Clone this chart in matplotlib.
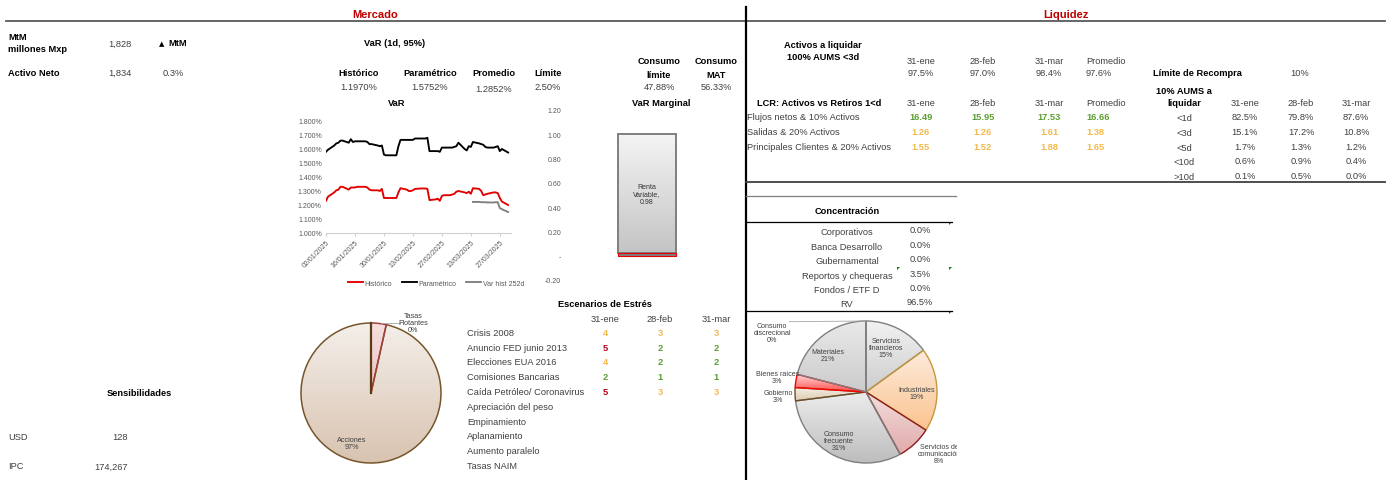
import numpy as np
import pandas as pd
import matplotlib
matplotlib.use('Agg')
import matplotlib.pyplot as plt
import matplotlib.dates as mdates
from matplotlib.colors import LinearSegmentedColormap
from matplotlib.patches import Polygon
from matplotlib.ticker import FuncFormatter

plt.rcParams['font.family'] = ['Liberation Sans', 'DejaVu Sans']

W, H = 1389, 481

# ---------------- Mercado ----------------
mtm = '1,828'
activo_neto = '1,834'
delta_mtm = '0.3%'

var_headers = ['Histórico', 'Paramétrico', 'Promedio', 'Límite']
var_values = ['1.1970%', '1.5752%', '1.2852%', '2.50%']
consumo_headers = [('Consumo', 'límite'), ('Consumo', 'MAT')]
consumo_values = ['47.88%', '56.33%']

# VaR diario en %, dias habiles del 02/01/2025 al 31/03/2025
var_dates = pd.bdate_range('2025-01-02', '2025-03-31')
var_historico = [1.23, 1.26, 1.29, 1.305, 1.31, 1.33, 1.33, 1.31, 1.325, 1.325, 1.325,
                 1.33, 1.33, 1.33, 1.325, 1.31, 1.305, 1.305, 1.30, 1.315, 1.25, 1.25,
                 1.25, 1.25, 1.25, 1.29, 1.32, 1.31, 1.30, 1.30, 1.305, 1.315,
                 1.318, 1.318, 1.318, 1.315, 1.235, 1.24, 1.245, 1.23, 1.265, 1.27,
                 1.27, 1.275, 1.28, 1.295, 1.30, 1.29, 1.285, 1.295, 1.28, 1.32, 1.315,
                 1.30, 1.27, 1.275, 1.28, 1.29, 1.29, 1.285, 1.25, 1.225, 1.20]
var_parametrico = [1.58, 1.595, 1.625, 1.64, 1.645, 1.66, 1.66, 1.645, 1.67, 1.65, 1.655,
                   1.655, 1.655, 1.655, 1.65, 1.635, 1.635, 1.625, 1.62, 1.625, 1.56, 1.555,
                   1.555, 1.555, 1.555, 1.62, 1.665, 1.665, 1.665, 1.665, 1.665, 1.675,
                   1.675, 1.675, 1.675, 1.68, 1.585, 1.585, 1.585, 1.58, 1.61, 1.61,
                   1.61, 1.61, 1.615, 1.62, 1.645, 1.60, 1.59, 1.62, 1.615, 1.65, 1.64,
                   1.635, 1.63, 1.615, 1.61, 1.61, 1.615, 1.62, 1.585, 1.60, 1.575]
var_hist_252d = [1.222, 1.222, 1.22, 1.22, 1.22, 1.218, 1.218, 1.22, 1.22, 1.178, 1.17, 1.15]

var_marginal_cat = ['Renta Variable']
var_marginal_base = [0.02]
var_marginal = [0.98]

tipo_labels = ['Tasas\nFlotantes\n0%', 'Acciones\n97%']
tipo_values = [3.5, 96.5]

escenarios = ['Crisis 2008', 'Anuncio FED junio 2013', 'Elecciones EUA 2016',
              'Comisiones Bancarias', 'Caída Petróleo/ Coronavirus', 'Apreciación del peso',
              'Empinamiento', 'Aplanamiento', 'Aumento paralelo', 'Tasas NAIM']
fechas = ['31-ene', '28-feb', '31-mar']
escenarios_valores = [[4, 3, 3], [5, 2, 2], [4, 2, 2], [2, 1, 1], [5, 3, 3]]

sens_labels = ['USD', 'IPC']
sens_values = ['128', '174,267']

# ---------------- Liquidez ----------------
activos_liquidar = ['97.5%', '97.0%', '98.4%']
activos_promedio = '97.6%'
lcr_rows = ['Flujos netos & 10% Activos', 'Salidas & 20% Activos',
            'Principales Clientes & 20% Activos']
lcr_values = [[16.49, 15.95, 17.53, 16.66],
              [1.26, 1.26, 1.61, 1.38],
              [1.55, 1.52, 1.88, 1.65]]
limite_recompra = '10%'
aums_rows = ['<1d', '<3d', '<5d', '<10d', '>10d']
aums_values = [['82.5%', '79.8%', '87.6%'],
               ['15.1%', '17.2%', '10.8%'],
               ['1.7%', '1.3%', '1.2%'],
               ['0.6%', '0.9%', '0.4%'],
               ['0.1%', '0.5%', '0.0%']]
conc_rows = ['Corporativos', 'Banca Desarrollo', 'Gubernamental',
             'Reportos y chequeras', 'Fondos / ETF D', 'RV']
conc_values = ['0.0%', '0.0%', '0.0%', '3.5%', '0.0%', '96.5%']

sector_labels = ['Servicios\nfinancieros\n15%', 'Industriales\n19%',
                 'Servicios de\ncomunicación\n8%', 'Consumo\nfrecuente\n31%',
                 'Gobierno\n3%', 'Bienes raíces\n3%', 'Materiales\n21%',
                 'Consumo\ndiscrecional\n0%']
sector_values = [15, 19, 8, 31, 3, 3, 21, 0]

GREEN = '#5a9e32'
ORANGE = '#f4b94a'
RED = '#b3001b'
TXT = '#404040'


def px_rect(x0, y0, x1, y1):
    return [x0 / W, 1 - y1 / H, (x1 - x0) / W, (y1 - y0) / H]


def grad_fill(ax, patch, c_top, c_bot, z=1):
    ext = patch.get_path().transformed(patch.get_patch_transform()).get_extents()
    cmap = LinearSegmentedColormap.from_list('g', [c_bot, c_top])
    grad = np.linspace(0, 1, 128).reshape(-1, 1)
    im = ax.imshow(grad, extent=[ext.x0, ext.x1, ext.y0, ext.y1], origin='lower',
                   cmap=cmap, aspect='auto', zorder=z, interpolation='bilinear')
    im.set_clip_path(patch)
    patch.set_facecolor('none')
    patch.set_zorder(z + 1)


fig = plt.figure(figsize=(W / 100, H / 100), dpi=100)

# overlay en pixeles para textos y lineas
ax0 = fig.add_axes([0, 0, 1, 1])
ax0.set_xlim(0, W)
ax0.set_ylim(H, 0)
ax0.axis('off')


def T(x, y, s, size=6.7, bold=False, color=TXT, ha='left'):
    ax0.text(x, y, s, fontsize=size, fontweight='bold' if bold else 'normal',
             color=color, ha=ha, va='center')


# titulos y lineas
T(375, 15, 'Mercado', 8, True, '#c00000', 'center')
T(1066, 15, 'Liquidez', 8, True, '#c00000', 'center')
ax0.plot([6, 1385], [22, 22], color='#595959', lw=1.3)
ax0.plot([746, 746], [8, 481], color='black', lw=1.6)
ax0.plot([746, 1385], [183, 183], color='#404040', lw=1.3)

# bloque MtM
T(8, 37, 'MtM', bold=True, color='black')
T(8, 50, 'millones Mxp', bold=True, color='black')
T(108, 44, mtm)
ax0.text(159, 44, '▲', fontsize=5, color='black', va='center', family='DejaVu Sans')
T(168, 44, 'MtM', bold=True, color='black')
T(8, 73, 'Activo Neto', bold=True, color='black')
T(108, 73, activo_neto)
T(163, 73, delta_mtm)

# VaR tabla
T(364, 44, 'VaR (1d, 95%)', bold=True, color='black')
for h, v, xc, yv in zip(var_headers, var_values, [359, 430, 494, 548], [88, 88, 90, 88]):
    T(xc, 73, h, bold=True, color='black', ha='center')
    T(xc, yv, v, ha='center')
for (h1, h2), v, xc in zip(consumo_headers, consumo_values, [659, 716]):
    T(xc, 62, h1, bold=True, color='black', ha='center')
    T(xc, 75, h2, bold=True, color='black', ha='center')
    T(xc, 88, v, ha='center')
T(397, 104, 'VaR', bold=True, color='black', ha='center')
T(661, 103, 'VaR Marginal', bold=True, color='black', ha='center')

# Escenarios de estres
T(605, 305, 'Escenarios de Estrés', bold=True, color='black', ha='center')
col_x = [605, 660, 716]
for f, xc in zip(fechas, col_x):
    T(xc, 320, f, ha='center')
for i, name in enumerate(escenarios):
    y = 333.3 + 14.8 * i
    T(467, y, name)
    if i < len(escenarios_valores):
        for val, xc in zip(escenarios_valores[i], col_x):
            c = GREEN if val <= 2 else (ORANGE if val <= 4 else RED)
            T(xc, y, str(val), bold=True, color=c, ha='center')

# Sensibilidades
T(139, 394, 'Sensibilidades', bold=True, color='black', ha='center')
for lab, val, y in zip(sens_labels, sens_values, [438, 467]):
    T(8, y, lab)
    T(128, y, val, ha='right')

# Liquidez: activos a liquidar
liq_x = [921, 983, 1049]
T(823, 46, 'Activos a liquidar', bold=True, color='black', ha='center')
T(823, 58, '100% AUMS <3d', bold=True, color='black', ha='center')
for f, v, xc in zip(fechas, activos_liquidar, liq_x):
    T(xc, 61, f, ha='center')
    T(xc, 73, v, ha='center')
T(1086, 61, 'Promedio')
T(1086, 74, activos_promedio)
T(1153, 73, 'Límite de Recompra', bold=True, color='black')
T(1300, 73, limite_recompra, ha='center')

# LCR
T(819, 103, 'LCR: Activos vs Retiros 1<d', bold=True, color='black', ha='center')
for f, xc in zip(fechas, liq_x):
    T(xc, 103, f, ha='center')
T(1086, 103, 'Promedio')
for i, (row, vals) in enumerate(zip(lcr_rows, lcr_values)):
    y = 117.7 + 14.8 * i
    T(747, y, row)
    for j, v in enumerate(vals):
        c = GREEN if v >= 2 else ORANGE
        if j < 3:
            T(liq_x[j], y, f'{v:.2f}', bold=True, color=c, ha='center')
        else:
            T(1086, y, f'{v:.2f}', bold=True, color=c)

# AUMS a liquidar
T(1184, 92, '10% AUMS a', bold=True, color='black', ha='center')
T(1184, 104, 'liquidar', bold=True, color='black', ha='center')
aums_x = [1245, 1301, 1356]
for f, xc in zip(fechas, aums_x):
    T(xc, 104, f, ha='center')
for i, (row, vals) in enumerate(zip(aums_rows, aums_values)):
    y = 117.7 + 14.75 * i
    T(1184, y + 1, row, ha='center')
    for v, xc in zip(vals, aums_x):
        T(xc, y, v, ha='center')

# Concentracion
ax0.plot([746, 956], [197, 197], color='#7f7f7f', lw=0.9)
T(847, 212, 'Concentración', bold=True, color='black', ha='center')
ax0.plot([746, 952], [223, 223], color='black', lw=0.9)
for i, (row, val) in enumerate(zip(conc_rows, conc_values)):
    y = 233 + 14.4 * i
    T(847, y, row, ha='center')
    T(920, y - 2, val, ha='center')
ax0.plot([746, 952], [312, 312], color='black', lw=0.9)
for fx, fy in [(949, 223), (897, 268), (949, 268), (949, 312)]:
    ax0.add_patch(Polygon([(fx, fy), (fx + 3, fy), (fx, fy + 3)], closed=True,
                          color='#008000', lw=0))

# ---------------- grafica VaR ----------------
ax = fig.add_axes(px_rect(326, 122, 511, 234))
ax.patch.set_alpha(0)
ax.plot(var_dates, var_historico, color='#e00000', lw=1.35, label='Histórico')
ax.plot(var_dates, var_parametrico, color='black', lw=1.35, label='Paramétrico')
ax.plot(var_dates[-len(var_hist_252d):], var_hist_252d, color='#7f7f7f', lw=1.35,
        label='Var hist 252d')
start = pd.Timestamp('2025-01-02')
ax.set_xlim(start, start + pd.Timedelta(days=89.4))
ax.set_ylim(1.0, 1.8)
ax.set_yticks(np.arange(1.0, 1.801, 0.1))
ax.yaxis.set_major_formatter(FuncFormatter(lambda v, p: f'{v:.3f}%'))
ax.set_xticks(pd.date_range(start, periods=7, freq='14D'))
ax.xaxis.set_major_formatter(mdates.DateFormatter('%d/%m/%Y'))
for s in ['left', 'top', 'right']:
    ax.spines[s].set_visible(False)
ax.spines['bottom'].set_color('#d0d0d0')
ax.spines['bottom'].set_linewidth(0.8)
ax.tick_params(axis='y', length=0, pad=3, labelsize=5, labelcolor='#595959')
ax.tick_params(axis='x', length=2.5, color='#d0d0d0', pad=1.5, labelsize=5,
               labelcolor='#595959')
for lab in ax.get_xticklabels():
    lab.set_rotation(45)
    lab.set_ha('right')
    lab.set_rotation_mode('anchor')
ax.legend(loc='center', bbox_to_anchor=(436 / W, 1 - 284 / H), bbox_transform=fig.transFigure,
          ncol=3, frameon=False, fontsize=5, handlelength=2.2, handletextpad=0.2,
          columnspacing=1.4, labelcolor='#595959')

# ---------------- VaR marginal ----------------
axb = fig.add_axes(px_rect(568, 111, 726, 281))
axb.patch.set_alpha(0)
axb.bar(var_marginal_cat, var_marginal_base, width=0.373, color='#7f7f7f',
        edgecolor='#e00000', lw=0.8, zorder=3)
bars = axb.bar(var_marginal_cat, var_marginal, bottom=var_marginal_base, width=0.373,
               edgecolor='#7f7f7f', lw=1.4)
for b in bars:
    grad_fill(axb, b, '#f4f4f4', '#c4c4c4', z=1)
for cat, b0, v in zip(var_marginal_cat, var_marginal_base, var_marginal):
    lbl = cat.replace(' ', '\n') + ',\n' + f'{v:.2f}'
    axb.text(cat, b0 + v / 2, lbl, ha='center', va='center', fontsize=5, color='#333333',
             zorder=5, linespacing=1.1)
axb.set_xlim(-0.5, 0.5)
axb.set_ylim(-0.2, 1.2)
axb.set_yticks(np.arange(-0.2, 1.201, 0.2))
axb.yaxis.set_major_formatter(FuncFormatter(lambda v, p: '-' if abs(v) < 1e-9 else f'{v:.2f}'))
axb.tick_params(axis='y', length=0, pad=5, labelsize=5, labelcolor='#595959')
axb.set_xticks([])
for s in axb.spines.values():
    s.set_visible(False)

# ---------------- pastel tipo de activo ----------------
axp = fig.add_axes(px_rect(296, 310, 446, 478))
axp.patch.set_alpha(0)
wedges, _ = axp.pie(tipo_values, startangle=90, counterclock=False, radius=1)
tipo_style = [('#f7dede', '#ecc4c4', '#a0403c'), ('#f4efea', '#d9c3b0', '#76552b')]
for w, (ct, cb, ec) in zip(wedges, tipo_style):
    w.set_edgecolor(ec)
    w.set_linewidth(1.1)
    grad_fill(axp, w, ct, cb, z=1)
wedges[0].set_zorder(3)
axp.plot([0, 0], [0, 1], color='#5c3a14', lw=1.6, zorder=4)
axp.plot([0.14, 0.42], [1.0, 1.0], color='#a6a6a6', lw=0.6, zorder=4)
for lab, (lx, ly) in zip(tipo_labels, [(0.6, 1.01), (-0.27, -0.71)]):
    axp.text(lx, ly, lab, ha='center', va='center', fontsize=5.2, color='#404040',
             linespacing=1.0, zorder=5)
axp.set_aspect('auto')
axp.set_xlim(-75 / 70, 75 / 70)
axp.set_ylim(-84 / 70, 84 / 70)

# ---------------- pastel sectores ----------------
axs = fig.add_axes(px_rect(745, 315, 957, 481))
axs.patch.set_alpha(0)
wedges, _ = axs.pie(sector_values, startangle=90, counterclock=False, radius=1)
sector_style = [('#f2f2f2', '#cdcdcd', '#7f7f7f'),
                ('#fdebdc', '#fbc48f', '#c8963c'),
                ('#f3dfde', '#e0abaa', '#8c1c1c'),
                ('#ececec', '#bdbdbd', '#7f7f7f'),
                ('#f6efe5', '#dccbb0', '#6b4e22'),
                ('#ffd9d9', '#ff4d4d', '#ff0000'),
                ('#e9e9e9', '#cbcbcb', '#7f7f7f'),
                ('#eeeeee', '#cccccc', '#7f7f7f')]
for w, (ct, cb, ec) in zip(wedges, sector_style):
    w.set_edgecolor(ec)
    w.set_linewidth(1.0)
    grad_fill(axs, w, ct, cb, z=1)
label_pos = [(0.28, 0.63), (0.72, -0.01), (1.03, -0.87), (-0.38, -0.69),
             (-1.24, -0.06), (-1.25, 0.21), (-0.535, 0.52), (-1.32, 0.845)]
for lab, (lx, ly) in zip(sector_labels, label_pos):
    axs.text(lx, ly, lab, ha='center', va='center', fontsize=5.1, color='#404040',
             linespacing=1.0, zorder=5, clip_on=True)
axs.plot([-1.08, 0], [0.99, 1.0], color='#a6a6a6', lw=0.6, zorder=4)
axs.set_aspect('auto')
axs.set_xlim(-121 / 71, 91 / 71)
axs.set_ylim(-88 / 71, 78 / 71)

fig.savefig('out.png', dpi=100)
